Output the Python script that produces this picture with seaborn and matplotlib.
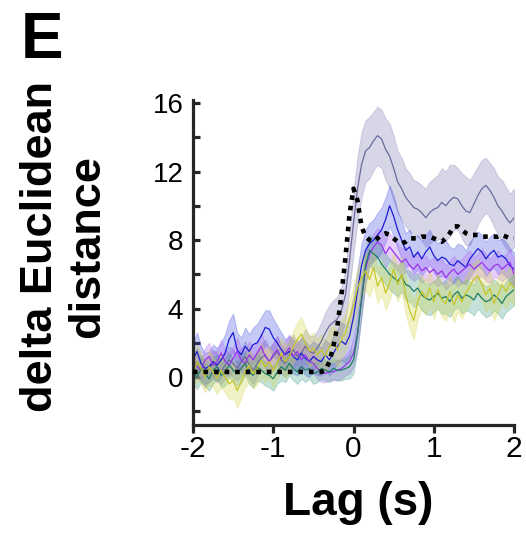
import numpy as np
import pandas as pd
import matplotlib
matplotlib.use("Agg")
import matplotlib.pyplot as plt
import seaborn as sns

# ---------------- data ----------------
lag = [round(-2 + 0.05 * i, 2) for i in range(81)]

slate_mean = [0.6, 0.9, 0.4, 0.2, 0.5, 0.8, 0.6, 0.3, 0.7, 1.0,
              0.8, 0.5, 0.9, 1.2, 0.7, 0.4, 0.8, 1.1, 1.3, 0.9,
              1.2, 1.5, 1.0, 0.8, 1.3, 1.6, 1.2, 1.4, 1.8, 1.5,
              1.4, 1.7, 2.1, 2.6, 3.0, 3.2, 3.4, 3.9, 4.8, 6.8,
              9.0, 11.0, 12.4, 13.2, 13.4, 13.8, 14.1, 13.9, 13.3, 12.9,
              12.2, 11.4, 11.0, 10.5, 10.2, 9.9, 9.8, 9.6, 9.3, 9.6,
              9.8, 9.9, 10.2, 10.0, 10.3, 10.5, 10.4, 10.0, 9.7, 9.6,
              10.1, 10.6, 11.0, 11.2, 10.9, 10.5, 10.0, 9.7, 9.3, 9.0,
              9.3]
slate_err = [0.7, 0.8, 0.7, 0.8, 0.7, 0.8, 0.8, 0.7, 0.8, 0.8,
             0.8, 0.7, 0.8, 0.9, 0.8, 0.8, 0.7, 0.8, 0.9, 0.8,
             0.8, 0.9, 0.8, 0.8, 0.9, 0.9, 0.8, 0.9, 1.0, 0.9,
             1.0, 1.0, 1.1, 1.2, 1.2, 1.3, 1.3, 1.4, 1.5, 1.7,
             1.8, 1.9, 1.9, 1.8, 1.8, 1.7, 1.7, 1.7, 1.8, 1.9,
             1.9, 1.8, 1.8, 1.7, 1.7, 1.6, 1.6, 1.6, 1.7, 1.8,
             1.8, 1.9, 2.0, 2.0, 2.1, 1.9, 1.8, 1.9, 2.0, 1.9,
             1.8, 1.7, 1.7, 1.6, 1.6, 1.7, 1.7, 1.8, 1.8, 1.7,
             1.7]

blue_mean = [1.0, 1.5, 0.8, 0.5, 0.6, 0.9, 0.7, 1.0, 1.4, 2.2,
             2.6, 1.6, 1.3, 1.8, 1.5, 1.9, 2.0, 2.4, 2.9, 2.8,
             2.3, 2.0, 1.6, 1.3, 1.5, 1.2, 1.0, 1.4, 1.1, 0.9,
             1.2, 1.0, 0.9, 1.3, 1.0, 1.4, 1.8, 2.1, 1.9, 2.4,
             3.5, 5.0, 6.5, 7.4, 7.8, 8.0, 8.3, 8.6, 9.2, 10.0,
             9.4, 8.6, 8.0, 7.4, 7.6, 7.0, 7.3, 6.9, 7.3, 7.6,
             7.1, 6.8, 7.0, 6.9, 6.6, 6.5, 6.8, 6.6, 6.4, 6.9,
             7.2, 7.5, 7.3, 6.9, 7.2, 7.4, 7.0, 7.1, 6.9, 6.5,
             6.3]
blue_err = [1.0, 1.1, 1.0, 0.9, 0.9, 1.0, 1.0, 1.0, 1.1, 1.1,
            1.1, 1.0, 1.0, 1.1, 1.0, 1.0, 1.1, 1.1, 1.0, 1.1,
            1.1, 1.0, 1.0, 0.9, 0.9, 1.0, 0.9, 0.9, 1.0, 0.9,
            0.9, 0.9, 0.8, 0.9, 0.9, 1.0, 1.0, 1.1, 1.1, 1.2,
            1.2, 1.3, 1.3, 1.2, 1.2, 1.2, 1.3, 1.3, 1.3, 1.2,
            1.2, 1.1, 1.1, 1.0, 1.0, 1.0, 1.0, 1.0, 1.0, 1.0,
            1.0, 1.0, 1.1, 1.1, 1.0, 1.0, 1.0, 1.1, 1.0, 1.0,
            1.0, 1.0, 1.0, 1.0, 1.0, 1.0, 1.0, 1.0, 1.0, 1.0,
            1.0]

purple_mean = [0.8, 0.6, 0.4, 1.0, 1.2, 0.7, 0.9, 1.4, 0.9, 0.7,
               1.1, 1.5, 1.0, 0.8, 1.3, 1.0, 1.4, 1.8, 1.2, 0.9,
               1.3, 1.6, 1.1, 1.4, 1.7, 1.2, 1.5, 1.0, 1.3, 0.9,
               0.8, 0.5, 0.3, 0.2, 0.3, 0.3, 0.4, 0.5, 0.7, 0.9,
               1.4, 2.5, 4.5, 6.3, 7.2, 7.6, 7.9, 7.7, 7.2, 7.6,
               7.3, 7.0, 6.7, 6.9, 6.5, 6.3, 6.6, 6.2, 6.4, 6.1,
               6.3, 6.0, 6.2, 5.8, 6.1, 6.3, 6.0, 6.2, 6.4, 6.6,
               6.3, 6.5, 6.7, 6.4, 6.2, 6.5, 6.6, 6.3, 6.5, 6.7,
               6.0]
purple_err = [0.7, 0.7, 0.6, 0.7, 0.8, 0.7, 0.7, 0.8, 0.7, 0.7,
              0.7, 0.8, 0.7, 0.7, 0.8, 0.7, 0.7, 0.8, 0.7, 0.7,
              0.7, 0.8, 0.7, 0.7, 0.8, 0.7, 0.7, 0.7, 0.7, 0.6,
              0.6, 0.6, 0.6, 0.5, 0.5, 0.5, 0.6, 0.6, 0.6, 0.7,
              0.8, 0.9, 0.9, 0.9, 0.8, 0.8, 0.8, 0.8, 0.8, 0.8,
              0.8, 0.8, 0.8, 0.7, 0.7, 0.7, 0.8, 0.7, 0.7, 0.7,
              0.7, 0.7, 0.7, 0.7, 0.7, 0.8, 0.7, 0.7, 0.8, 0.8,
              0.7, 0.7, 0.8, 0.8, 0.7, 0.7, 0.8, 0.7, 0.7, 0.8,
              0.8]

teal_mean = [0.3, 0.0, 0.5, 0.2, -0.1, 0.4, 0.6, 0.1, 0.3, 0.7,
             0.4, 0.2, 0.5, 0.8, 0.3, 0.1, 0.6, 0.4, 0.2, 0.1,
             -0.1, 0.3, 0.6, 0.4, 0.8, 0.5, 0.3, 0.6, 0.4, 0.5,
             0.2, 0.3, 0.5, 0.4, 0.3, 0.5, 0.4, 0.4, 0.5, 0.6,
             1.0, 2.5, 4.5, 6.5, 7.4, 7.2, 7.0, 6.6, 6.3, 6.0,
             5.8, 5.6, 5.9, 5.4, 5.3, 5.0, 5.2, 4.8, 4.6, 4.5,
             4.7, 4.9, 4.6, 4.7, 4.4, 4.8, 5.0, 4.6, 4.8, 4.7,
             4.5, 4.9, 4.6, 4.4, 4.5, 4.8, 4.6, 4.3, 4.7, 4.9,
             5.1]
teal_err = [0.7, 0.7, 0.8, 0.7, 0.7, 0.8, 0.7, 0.7, 0.8, 0.7,
            0.7, 0.7, 0.8, 0.7, 0.7, 0.7, 0.8, 0.7, 0.7, 0.7,
            0.7, 0.7, 0.8, 0.7, 0.7, 0.7, 0.7, 0.7, 0.7, 0.6,
            0.6, 0.6, 0.6, 0.6, 0.6, 0.6, 0.6, 0.6, 0.6, 0.7,
            0.8, 0.9, 1.0, 1.0, 0.9, 0.9, 0.9, 0.9, 0.9, 0.9,
            0.9, 0.9, 0.9, 0.9, 0.9, 0.9, 0.9, 0.9, 0.9, 0.9,
            0.9, 0.9, 0.9, 1.0, 0.9, 0.9, 0.9, 0.9, 0.9, 0.9,
            0.9, 0.9, 0.9, 0.9, 0.9, 0.9, 0.9, 0.9, 0.9, 0.9,
            0.9]

yellow_mean = [0.2, 0.9, 0.5, 0.0, 0.6, 0.3, -0.1, 0.4, 0.0, -0.4,
               -0.2, -0.8, -0.3, 0.3, 0.7, 0.2, 0.5, 1.0, 0.6, 0.9,
               0.4, 0.8, 1.4, 0.9, 1.2, 1.8, 2.2, 2.5, 2.0, 1.5,
               1.7, 1.3, 1.6, 1.2, 1.8, 2.0, 1.6, 2.2, 2.6, 3.4,
               4.2, 5.2, 5.8, 6.2, 5.7, 6.4, 5.3, 5.8, 4.9, 5.5,
               6.3, 5.4, 6.0, 4.8, 3.9, 3.3, 4.4, 5.0, 4.6, 5.2,
               4.4, 5.1, 4.5, 4.3, 5.0, 4.2, 4.8, 4.4, 4.9, 5.3,
               5.7, 5.9, 5.4, 4.8, 5.2, 4.3, 4.8, 5.4, 5.0, 5.5,
               5.2]
yellow_err = [0.9, 1.0, 0.9, 0.9, 1.0, 0.9, 0.9, 1.0, 0.9, 0.9,
              1.0, 1.0, 0.9, 0.9, 1.0, 0.9, 0.9, 1.0, 0.9, 0.9,
              1.0, 0.9, 0.9, 1.0, 0.9, 0.9, 1.0, 1.0, 0.9, 0.9,
              0.9, 0.9, 0.9, 0.9, 1.0, 1.0, 1.0, 1.1, 1.1, 1.1,
              1.1, 1.1, 1.1, 1.1, 1.0, 1.0, 1.0, 1.0, 1.0, 1.0,
              1.0, 1.0, 1.0, 1.1, 1.1, 1.1, 1.0, 1.0, 1.0, 1.0,
              1.0, 1.0, 1.0, 1.0, 1.0, 1.0, 1.0, 1.0, 1.0, 1.0,
              1.0, 1.0, 1.0, 1.0, 1.0, 1.0, 1.0, 1.0, 1.0, 1.0,
              1.0]

dotted_mean = [0.3, 0.3, 0.3, 0.3, 0.3, 0.3, 0.3, 0.3, 0.3, 0.3,
               0.3, 0.3, 0.3, 0.3, 0.3, 0.3, 0.3, 0.3, 0.3, 0.3,
               0.3, 0.3, 0.3, 0.3, 0.3, 0.3, 0.3, 0.3, 0.3, 0.3,
               0.3, 0.3, 0.3, 0.4, 0.9, 1.8, 3.0, 4.8, 7.0, 9.5,
               11.0, 10.3, 8.8, 8.2, 8.0, 7.9, 8.1, 8.3, 8.4, 8.3,
               8.1, 7.9, 7.8, 7.9, 8.1, 8.1, 8.1, 8.2, 8.2, 8.2,
               8.1, 8.0, 7.9, 8.1, 8.4, 8.8, 8.8, 8.6, 8.4, 8.3,
               8.3, 8.3, 8.2, 8.2, 8.2, 8.2, 8.2, 8.3, 8.2, 8.1,
               8.1]

series_names = ["slate", "blue", "purple", "teal", "yellow"]
series_means = [slate_mean, blue_mean, purple_mean, teal_mean, yellow_mean]
series_errs = [slate_err, blue_err, purple_err, teal_err, yellow_err]

xticks = [-2, -1, 0, 1, 2]
yticks = [-2, 0, 2, 4, 6, 8, 10, 12, 14, 16]
ytick_labels = ["", "0", "", "4", "", "8", "", "12", "", "16"]

# ---------------- styling ----------------
line_colors = {"slate": "#6c6a9c", "blue": "#1c1cd6", "purple": "#9a34ee",
               "teal": "#1d7d64", "yellow": "#c6c62a"}
fill_colors = {"slate": "#7d7ab2", "blue": "#3c4ce2", "purple": "#b263f4",
               "teal": "#3c9c86", "yellow": "#d4d446"}

sns.set_theme(style="white")
plt.rcParams["font.family"] = ["Liberation Sans", "DejaVu Sans"]
plt.rcParams["text.color"] = "black"

rows = []
for name, m, e in zip(series_names, series_means, series_errs):
    for x, v, s in zip(lag, m, e):
        rows.append({"lag": x, "value": v, "lo": v - s, "hi": v + s, "series": name})
df = pd.DataFrame(rows)
df_dot = pd.DataFrame({"lag": lag, "value": dotted_mean})

fig = plt.figure(figsize=(5.26, 5.34), dpi=100)
ax = fig.add_axes([193 / 526, 1 - 425 / 534, (514 - 193) / 526, (425 - 100) / 534])

for name in series_names:
    sub = df[df.series == name]
    ax.fill_between(sub["lag"], sub["lo"], sub["hi"], facecolor=fill_colors[name],
                    alpha=0.30, edgecolor=fill_colors[name], linewidth=0.7, zorder=1)

sns.lineplot(data=df, x="lag", y="value", hue="series", palette=line_colors,
             hue_order=series_names, errorbar=None, legend=False, linewidth=0.9,
             ax=ax, zorder=2)
sns.lineplot(data=df_dot, x="lag", y="value", color="black", linewidth=3.3,
             linestyle=(0, (1, 1.3)), ax=ax, zorder=3)
for ln in ax.lines[-1:]:
    ln.set_dash_capstyle("butt")

ax.set_xlim(-2, 2)
ax.set_ylim(-2.8, 16.18)
ax.set_xticks(xticks)
ax.set_xticklabels([str(t) for t in xticks])
ax.set_yticks(yticks)
ax.set_yticklabels(ytick_labels)
ax.set_xlabel("")
ax.set_ylabel("")

sns.despine(ax=ax)
for sp in ["left", "bottom"]:
    ax.spines[sp].set_linewidth(2.3)
    ax.spines[sp].set_color("#262626")
    ax.spines[sp].set_capstyle("projecting")

ax.tick_params(axis="y", direction="in", length=5, width=2.3, color="#262626",
               labelsize=20, pad=7, labelcolor="black", left=True)
ax.tick_params(axis="x", direction="out", length=5.5, width=2.3, color="#262626",
               labelsize=21.5, pad=2, labelcolor="black", bottom=True)

fig.text(358 / 526, 1 - 515 / 534, "Lag (s)", ha="center", va="baseline",
         fontsize=33, fontweight="bold", color="black")
fig.text(64 / 526, 1 - 247 / 534, "delta Euclidean\ndistance", ha="center",
         va="center", rotation=90, fontsize=32.5, fontweight="bold",
         multialignment="center", linespacing=1.2, color="black")
fig.text(21 / 526, 1 - 58 / 534, "E", ha="left", va="baseline",
         fontsize=46, fontweight="bold", color="black")

fig.savefig("out.png", dpi=100)
